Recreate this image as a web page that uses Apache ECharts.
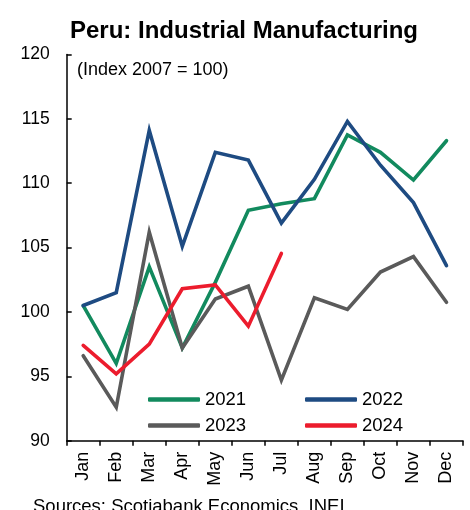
<!DOCTYPE html>
<html><head><meta charset="utf-8">
<script src="https://cdn.jsdelivr.net/npm/echarts@6/dist/echarts.min.js"></script>
<style>html,body{margin:0;padding:0;background:#fff}#c{width:470px;height:510px}</style>
</head><body><div id="c"></div>
<script>
const months = ['Jan','Feb','Mar','Apr','May','Jun','Jul','Aug','Sep','Oct','Nov','Dec'];
const y2021 = [100.5, 96.0, 103.5, 97.2, 102.3, 107.9, 108.4, 108.8, 113.75, 112.4, 110.25, 113.3];
const y2022 = [100.5, 101.5, 114.1, 105.1, 112.4, 111.8, 106.9, 110.3, 114.8, 111.4, 108.5, 103.6];
const y2023 = [96.6, 92.6, 106.2, 97.2, 101.0, 102.0, 94.7, 101.1, 100.2, 103.1, 104.3, 100.75];
const y2024 = [97.4, 95.2, 97.5, 101.8, 102.1, 98.9, 104.55, null, null, null, null, null];
const yTicks = [90, 95, 100, 105, 110, 115, 120];

const colors = {'2021':'#128a5e','2022':'#1e4b82','2023':'#5a5a5a','2024':'#ec1c2d'};
const font = 'Liberation Sans, Arial, sans-serif';
function mkSeries(name, data){
  return {name, type:'line', data, symbol:'none', connectNulls:false,
    lineStyle:{width:3.6, color:colors[name], cap:'round', join:'miter'},
    itemStyle:{color:colors[name]}, z: 2};
}
function mkLegend(name, left, top){
  return {data:[name], left, top, padding:0, icon:'roundRect', itemWidth:52, itemHeight:4.5, itemGap:0,
    textStyle:{fontFamily:font, fontSize:18.5, color:'#000', padding:[0,0,0,0]}, selectedMode:false};
}
const chart = echarts.init(document.getElementById('c'), null, {renderer:'canvas'});
chart.setOption({
  animation:false,
  title:{text:'Peru: Industrial Manufacturing', left:65, top:14,
    textStyle:{fontFamily:font, fontSize:24, fontWeight:'bold', color:'#000'}},
  grid:{left:66.7, right:7, top:54.5, bottom:69.3, containLabel:false},
  legend:[mkLegend('2021',148,390), mkLegend('2022',305,390), mkLegend('2023',148,416), mkLegend('2024',305,416)],
  graphic:[
    {type:'text', left:77, top:61, style:{text:'(Index 2007 = 100)', font:'18px '+font, fill:'#000'}},
    {type:'text', left:33, top:497, style:{text:'Sources: Scotiabank Economics, INEI.', font:'18.5px '+font, fill:'#000'}}
  ],
  xAxis:{type:'category', data:months, boundaryGap:true,
    axisLine:{lineStyle:{color:'#000', width:1.5}},
    axisTick:{show:true, inside:false, length:5, lineStyle:{color:'#000', width:1.5}},
    axisLabel:{rotate:90, margin:11, fontFamily:font, fontSize:18, color:'#000', interval:0},
    splitLine:{show:false}},
  yAxis:{type:'value', min:yTicks[0], max:yTicks[yTicks.length-1], interval:5,
    axisLine:{show:true, lineStyle:{color:'#000', width:1.5}},
    axisTick:{show:true, inside:true, length:5, lineStyle:{color:'#000', width:1.5}},
    axisLabel:{margin:17, fontFamily:font, fontSize:17.5, color:'#000'},
    splitLine:{show:false}},
  series:[mkSeries('2021', y2021), mkSeries('2022', y2022), mkSeries('2023', y2023), mkSeries('2024', y2024)]
});
</script></body></html>
